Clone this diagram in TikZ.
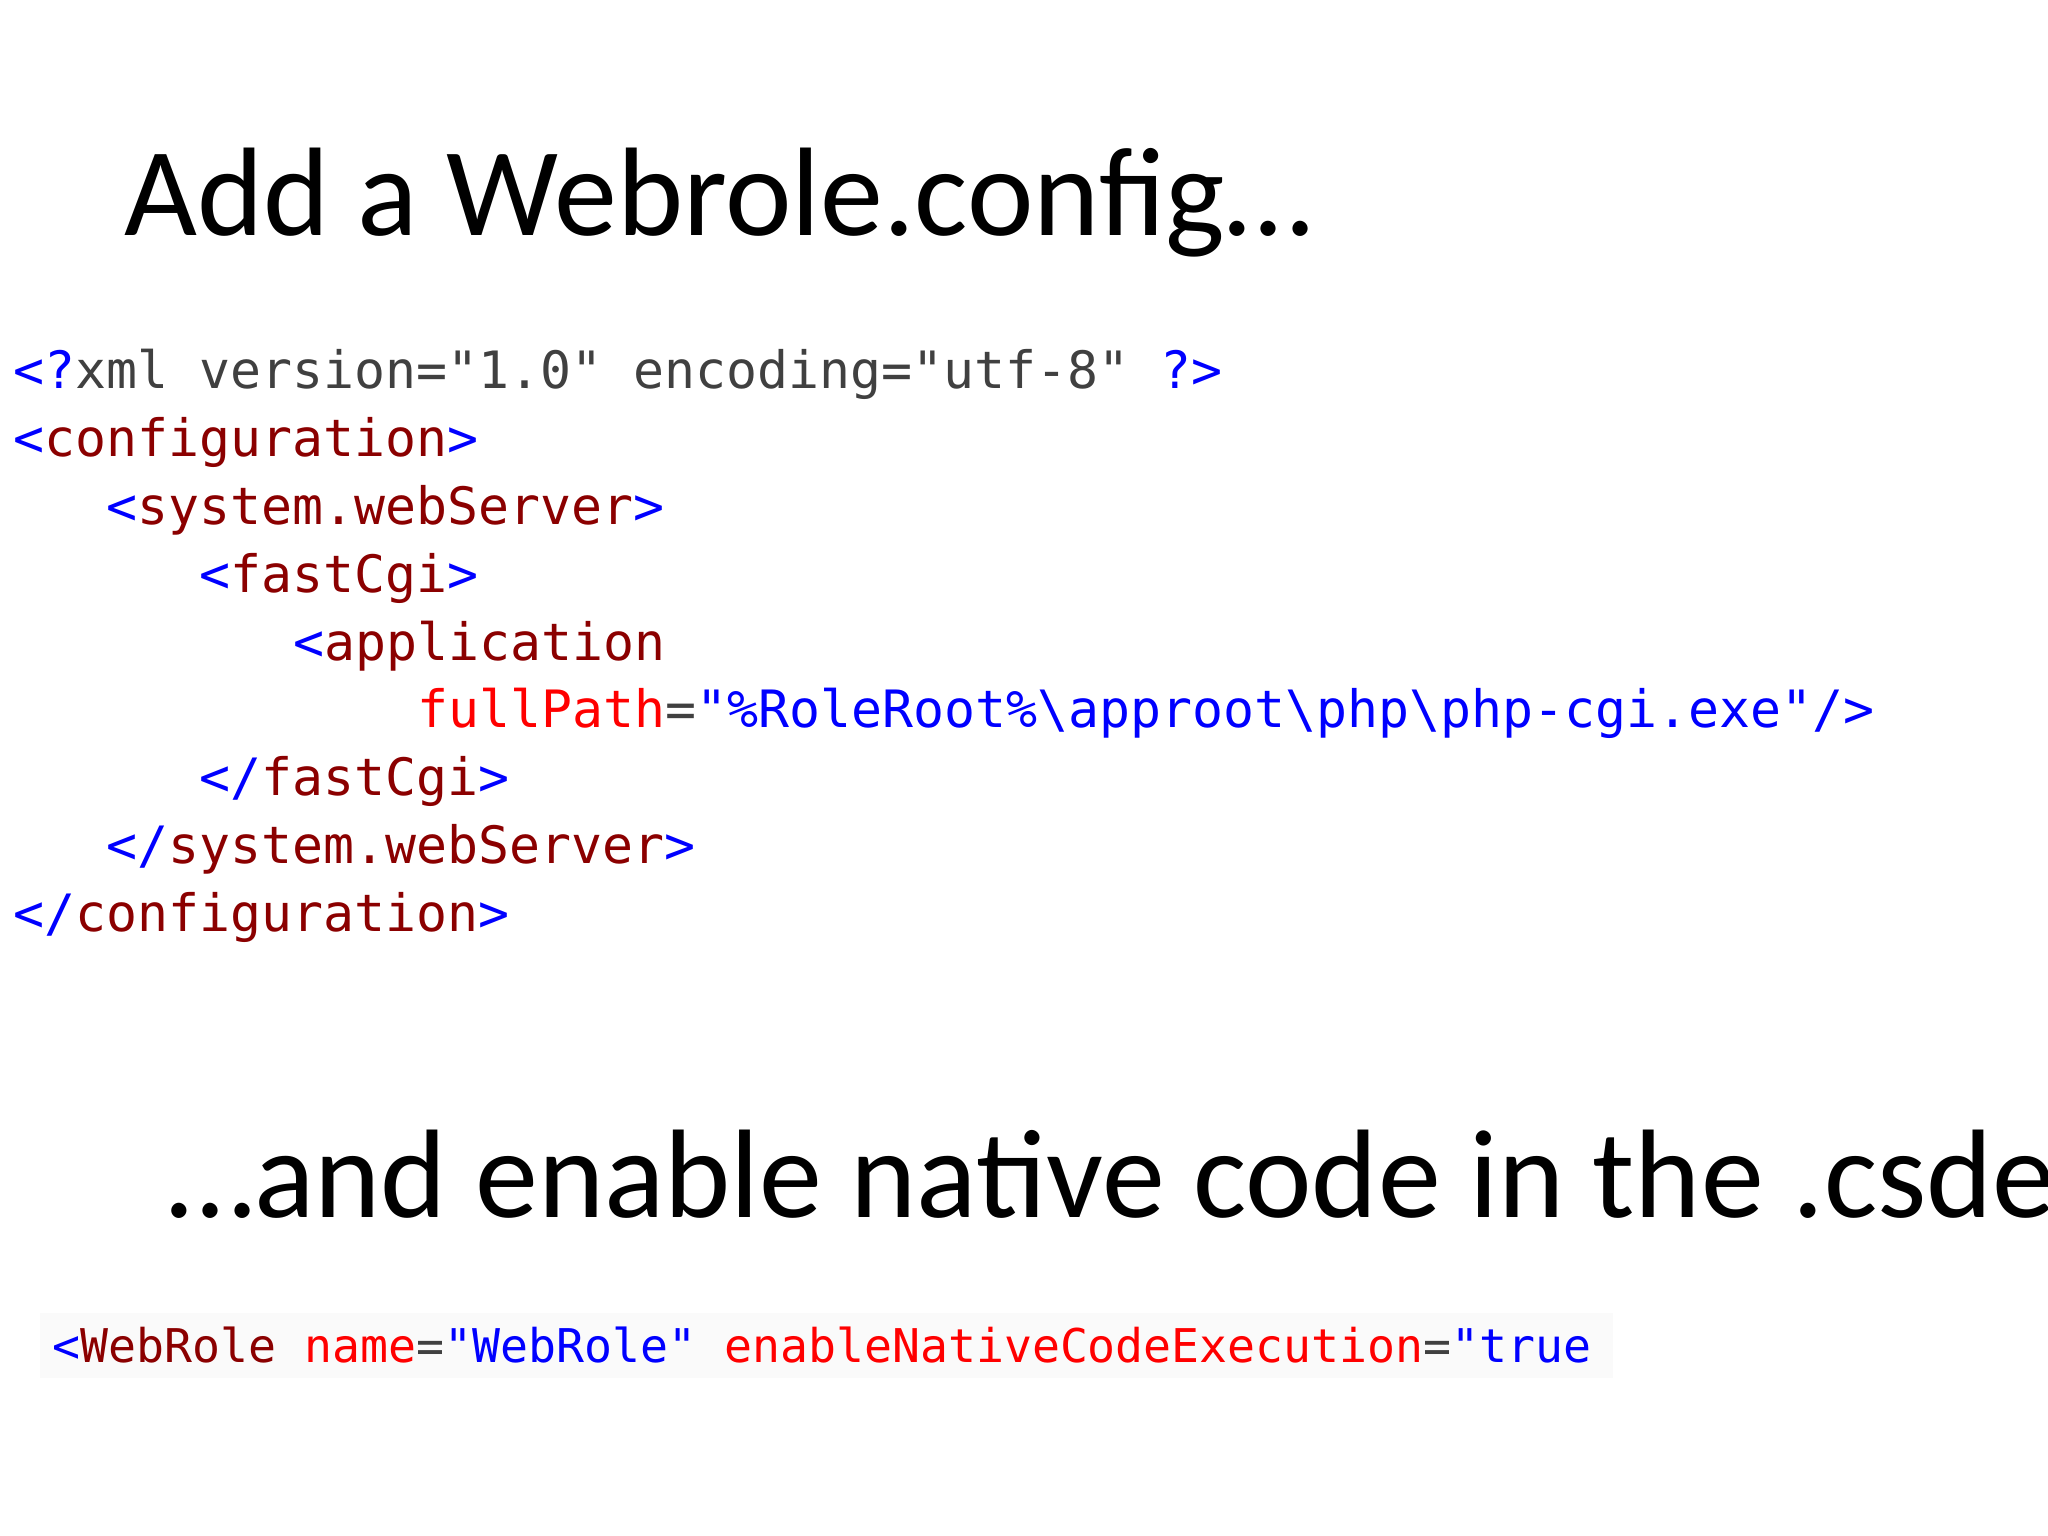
\documentclass[tikz,border=0pt]{standalone}
\usepackage{fontspec}
\setmainfont{Carlito}
\newfontfamily\code{DejaVu Sans Mono}
\definecolor{kw}{HTML}{0000FF}
\definecolor{el}{HTML}{8B0000}
\definecolor{at}{HTML}{FF0000}
\definecolor{tx}{HTML}{404040}
\tikzset{
  title/.style={anchor=base west,inner sep=0,font=\fontsize{126}{140}\selectfont},
  codeln/.style={anchor=base west,inner sep=0,font=\code\fontsize{51.5}{60}\selectfont},
  codesm/.style={anchor=base west,inner sep=0,font=\code\fontsize{46.5}{54}\selectfont}
}
\newcommand{\B}[1]{\textcolor{kw}{#1}}
\newcommand{\E}[1]{\textcolor{el}{#1}}
\newcommand{\A}[1]{\textcolor{at}{#1}}
\begin{document}
\begin{tikzpicture}[x=1pt,y=-1pt]
\useasboundingbox (0,0) rectangle (2048,1536);
\fill[white] (0,0) rectangle (2048,1536);
\node[title] (t1) at (124,235) {Add a Webrole.config…};
\def\cw{31.1}
\node[codeln] (l1) at (13,388) {\B{<?}\textcolor{tx}{xml version="1.0" encoding="utf-8"} \B{?>}};
\node[codeln] (l2) at (13,456) {\B{<}\E{configuration}\B{>}};
\node[codeln] (l3) at (13+3*\cw,524) {\B{<}\E{system.webServer}\B{>}};
\node[codeln] (l4) at (13+6*\cw,592) {\B{<}\E{fastCgi}\B{>}};
\node[codeln] (l5) at (13+9*\cw,660) {\B{<}\E{application}};
\node[codeln] (l6) at (13+13*\cw,727) {\A{fullPath}\textcolor{tx}{=}\B{"\%RoleRoot\%\textbackslash approot\textbackslash php\textbackslash php-cgi.exe"/>}};
\node[codeln] (l7) at (13+6*\cw,795) {\B{</}\E{fastCgi}\B{>}};
\node[codeln] (l8) at (13+3*\cw,863) {\B{</}\E{system.webServer}\B{>}};
\node[codeln] (l9) at (13,931) {\B{</}\E{configuration}\B{>}};
\node[title] (t2) at (167,1217) {…and enable native code in the .csdef};
\fill[black!2] (40,1313) rectangle (1613,1378);
\node[codesm] (l10) at (52,1362) {\B{<}\E{WebRole} \A{name}\textcolor{tx}{=}\B{"WebRole"} \A{enableNativeCodeExecution}\textcolor{tx}{=}\B{"true}};
\end{tikzpicture}
\end{document}
